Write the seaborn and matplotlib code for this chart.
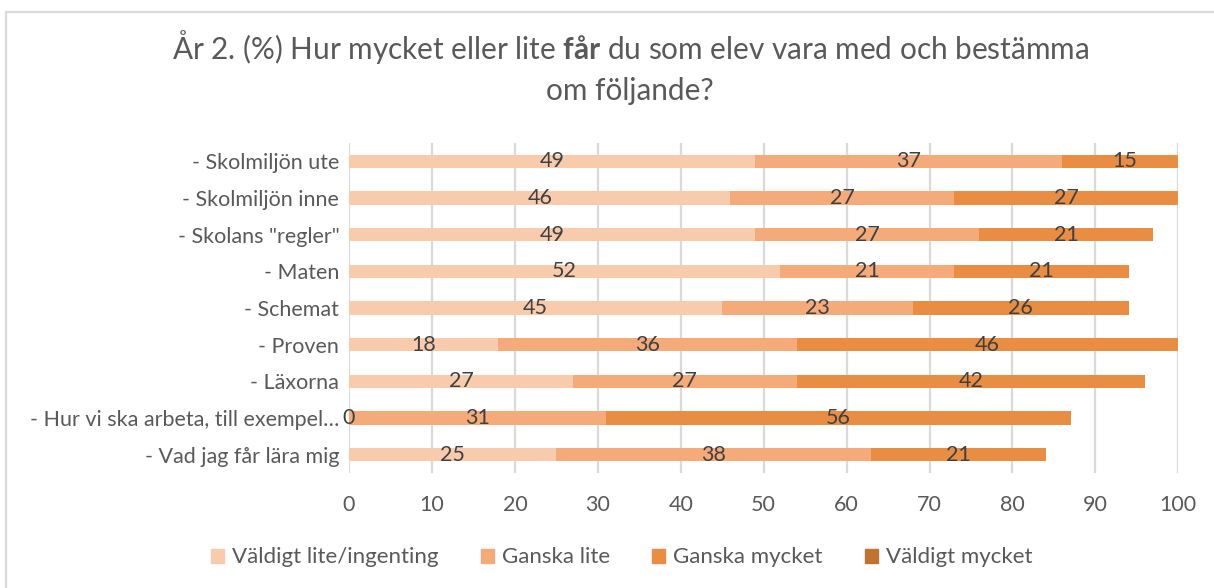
import numpy as np
import pandas as pd
import matplotlib.pyplot as plt
import seaborn as sns
from matplotlib.patches import Rectangle

sns.set_theme(style="white")
plt.rcParams['font.family'] = ['Lato', 'DejaVu Sans']
plt.rcParams['mathtext.fontset'] = 'custom'
plt.rcParams['mathtext.rm'] = 'Lato'
plt.rcParams['mathtext.bf'] = 'Lato:bold'

# Data
categories = [
    '- Skolmiljön ute',
    '- Skolmiljön inne',
    '- Skolans "regler"',
    '- Maten',
    '- Schemat',
    '- Proven',
    '- Läxorna',
    '- Hur vi ska arbeta, till exempel…',
    '- Vad jag får lära mig',
]
series_names = ['Väldigt lite/ingenting', 'Ganska lite', 'Ganska mycket', 'Väldigt mycket']
valdigt_lite = [49, 46, 49, 52, 45, 18, 27, 0, 25]
ganska_lite = [37, 27, 27, 21, 23, 36, 27, 31, 38]
ganska_mycket = [15, 27, 21, 21, 26, 46, 42, 56, 21]
valdigt_mycket = [0, 0, 0, 0, 0, 0, 0, 0, 0]
x_ticks = [0, 10, 20, 30, 40, 50, 60, 70, 80, 90, 100]

colors = ['#F8CBAD', '#F5AA79', '#E88D42', '#C0732F']
text_col = '#595959'
label_col = '#404040'

df = pd.DataFrame({
    'kategori': categories,
    series_names[0]: valdigt_lite,
    series_names[1]: ganska_lite,
    series_names[2]: ganska_mycket,
    series_names[3]: valdigt_mycket,
})
vals = df[series_names].to_numpy(dtype=float)
cum = np.cumsum(vals, axis=1)

fig = plt.figure(figsize=(12.14, 5.88), dpi=100)
ax = fig.add_axes([0.2875, 0.1956, 0.6831, 0.5612])

# stacked bars: draw cumulative totals from the outermost layer inwards
for k in range(3, -1, -1):
    sns.barplot(x=cum[:, k], y=df['kategori'], orient='h', color=colors[k],
                saturation=1, width=0.36, errorbar=None, linewidth=0, ax=ax,
                zorder=3)

# segment labels (last series has no labels)
for k in range(3):
    lefts = cum[:, k] - vals[:, k]
    for i, v in enumerate(vals[:, k]):
        ax.text(lefts[i] + v / 2, i, f'{v:.0f}', ha='center', va='center',
                fontsize=15.5, color=label_col, zorder=5)

ax.set_xlim(0, 100)
ax.set_ylim(len(categories) - 0.5, -0.5)
ax.set_xticks(x_ticks)
ax.set_xlabel('')
ax.set_ylabel('')
ax.tick_params(axis='x', labelsize=15.5, colors=text_col, length=0, pad=16)
ax.tick_params(axis='y', labelsize=15.5, colors=text_col, length=0, pad=7)
ax.xaxis.grid(True, color='#D9D9D9', linewidth=1.6, zorder=0)
ax.set_axisbelow(True)
for s in ax.spines.values():
    s.set_visible(False)

# legend
handles = [Rectangle((0, 0), 1, 1, color=c) for c in colors]
fig.legend(handles, series_names, loc='center', bbox_to_anchor=(0.512, 0.052),
           ncol=4, frameon=False, fontsize=16, labelcolor=text_col,
           handlelength=0.6, handleheight=0.6, handletextpad=0.35,
           columnspacing=1.9)

fig.text(0.519, 0.92, 'År 2. (%) Hur mycket eller lite $\\bf{får}$ du som elev vara med och bestämma',
         ha='center', va='center', fontsize=21.4, color=text_col)
fig.text(0.519, 0.845, 'om följande?', ha='center', va='center', fontsize=21.4, color=text_col)

# chart area border
fig.patches.append(Rectangle((6 / 1214, -0.1), 1.2, 1 - 12 / 588 + 0.1,
                             transform=fig.transFigure, fill=False,
                             edgecolor='#D9D9D9', linewidth=1.6))

fig.savefig('out.png', dpi=100)
